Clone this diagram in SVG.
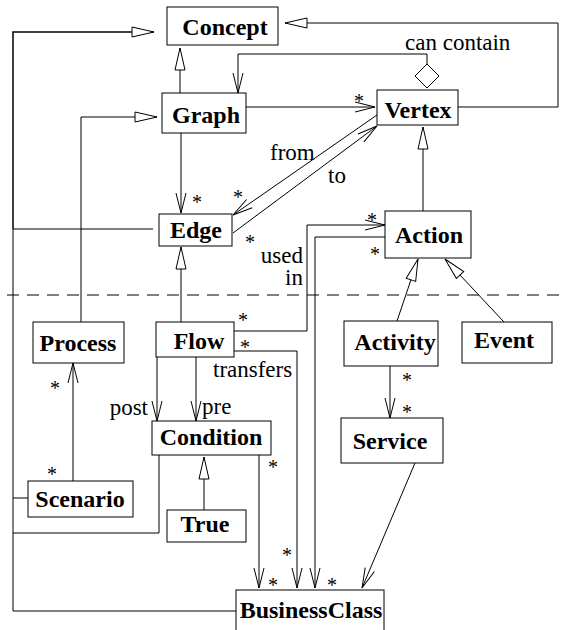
<svg xmlns="http://www.w3.org/2000/svg" width="563" height="630" viewBox="0 0 563 630">
  <style>
    .box { fill: #fff; stroke: #000; stroke-width: 1; }
    .name { font-family: "Liberation Serif", "Times New Roman", serif; font-weight: bold; font-size: 24px; text-anchor: middle; fill: #000; }
    .lbl { font-family: "Liberation Serif", "Times New Roman", serif; font-size: 23px; fill: #000; }
    .star { font-family: "Liberation Serif", "Times New Roman", serif; font-size: 20px; text-anchor: middle; fill: #000; }
    .line { fill: none; stroke: #000; stroke-width: 1; }
    .bus { fill: none; stroke: #000; stroke-width: 1.5; }
    .nav { marker-end: url(#open); }
    .gen { marker-end: url(#tri); }
    .sep { fill: none; stroke: #000; stroke-width: 1; stroke-dasharray: 12 8; }
  </style>
  <defs>
    <!-- navigable association: open V head -->
    <marker id="open" markerUnits="userSpaceOnUse" viewBox="-22 -7 24 14" markerWidth="24" markerHeight="14" refX="0" refY="0" orient="auto" overflow="visible">
      <path d="M-20,-5 L0,0 L-20,5" fill="none" stroke="#000" stroke-width="1"/>
    </marker>
    <!-- generalization: hollow triangle -->
    <marker id="tri" markerUnits="userSpaceOnUse" viewBox="-24 -7 26 14" markerWidth="26" markerHeight="14" refX="0" refY="0" orient="auto" overflow="visible">
      <path d="M-22,-5 L0,0 L-22,5 Z" fill="#fff" stroke="#000" stroke-width="1"/>
    </marker>
  </defs>

  <rect width="563" height="630" fill="#fff"/>

  <!-- layer separator -->
  <line class="sep" x1="7" y1="295" x2="563" y2="295"/>

  <g id="connectors">
    <!-- outer bus to Concept -->
    <path class="line" d="M13,611 V229" />
    <path class="bus gen" d="M13,229 V32 H154"/>
    <path class="line" d="M13,229 H153"/>
    <path class="line" d="M13,498 H28"/>
    <path class="line" d="M13,533 H159 V455"/>
    <path class="line" d="M13,611 H236"/>

    <!-- Graph generalizations -->
    <path class="line gen" d="M180,93 V48"/>
    <path class="line gen" d="M81,322 V117 H157"/>

    <!-- Vertex containment into Graph -->
    <path class="line nav" d="M427,64 V54 H238 V93"/>
    <polygon points="427,64 439,76 427,88 415,76" fill="#fff" stroke="#000" stroke-width="1"/>

    <!-- Vertex generalization to Concept -->
    <path class="line gen" d="M458,107 H558 V23 H285"/>

    <!-- Graph to Vertex / Edge -->
    <path class="line nav" d="M246,107 H375"/>
    <path class="line nav" d="M181,133 V213"/>

    <!-- from / to between Vertex and Edge -->
    <path class="line nav" d="M377,115 L233,215"/>
    <path class="line nav" d="M233,233 L377,126"/>

    <!-- Flow generalization to Edge -->
    <path class="line gen" d="M181,322 V247"/>

    <!-- used in -->
    <path class="line nav" d="M234,331 H307 V225 H385"/>
    <path class="line nav" d="M385,237 H315 V588"/>

    <!-- transfers -->
    <path class="line nav" d="M234,351 H297 V588"/>

    <!-- Condition to BusinessClass -->
    <path class="line nav" d="M259,455 V588"/>

    <!-- post / pre -->
    <path class="line nav" d="M157,357 V421"/>
    <path class="line nav" d="M196,357 V421"/>

    <!-- Scenario to Process -->
    <path class="line nav" d="M73,481 V363"/>

    <!-- True generalization to Condition -->
    <path class="line gen" d="M204,510 V457"/>

    <!-- Action generalization to Vertex -->
    <path class="line gen" d="M423,211 V127"/>

    <!-- Activity / Event generalization to Action -->
    <path class="line gen" d="M397,321 L418,259"/>
    <path class="line gen" d="M504,322 L445,259"/>

    <!-- Activity to Service -->
    <path class="line nav" d="M390,366 V418"/>

    <!-- Service to BusinessClass -->
    <path class="line nav" d="M415,463 L362,588"/>

    <!-- multiplicities -->
    <text class="star" x="359" y="108">*</text>
    <text class="star" x="197" y="209">*</text>
    <text class="star" x="238" y="204">*</text>
    <text class="star" x="250" y="249">*</text>
    <text class="star" x="243" y="327">*</text>
    <text class="star" x="245" y="354">*</text>
    <text class="star" x="372" y="227">*</text>
    <text class="star" x="375" y="261">*</text>
    <text class="star" x="273" y="474">*</text>
    <text class="star" x="287" y="562">*</text>
    <text class="star" x="273" y="592">*</text>
    <text class="star" x="332" y="592">*</text>
    <text class="star" x="407" y="387">*</text>
    <text class="star" x="407" y="419">*</text>
    <text class="star" x="55" y="395">*</text>
    <text class="star" x="52" y="481">*</text>

    <!-- role labels -->
    <text class="lbl" x="405" y="50">can contain</text>
    <text class="lbl" x="270" y="160">from</text>
    <text class="lbl" x="328" y="183">to</text>
    <text class="lbl" text-anchor="end"><tspan x="303" y="263">used</tspan><tspan x="303" y="285">in</tspan></text>
    <text class="lbl" x="213" y="377">transfers</text>
    <text class="lbl" x="148" y="415" text-anchor="end">post</text>
    <text class="lbl" x="202" y="414">pre</text>
  </g>

  <g id="concept"><rect class="box" x="167" y="7" width="111" height="38"/><text class="name" x="225" y="35">Concept</text></g>
  <g id="graph"><rect class="box" x="162" y="93" width="84" height="40"/><text class="name" x="206" y="123">Graph</text></g>
  <g id="vertex"><rect class="box" x="377" y="90" width="81" height="35"/><text class="name" x="418" y="118">Vertex</text></g>
  <g id="edge"><rect class="box" x="159" y="214" width="73" height="32"/><text class="name" x="196" y="238">Edge</text></g>
  <g id="action"><rect class="box" x="385" y="211" width="86" height="47"/><text class="name" x="429" y="243">Action</text></g>
  <g id="process"><rect class="box" x="33" y="322" width="91" height="41"/><text class="name" x="78" y="351">Process</text></g>
  <g id="flow"><rect class="box" x="156" y="322" width="78" height="35"/><text class="name" x="199" y="349">Flow</text></g>
  <g id="activity"><rect class="box" x="344" y="321" width="94" height="45"/><text class="name" x="395" y="350">Activity</text></g>
  <g id="event"><rect class="box" x="462" y="322" width="90" height="41"/><text class="name" x="504" y="348">Event</text></g>
  <g id="condition"><rect class="box" x="152" y="421" width="119" height="34"/><text class="name" x="211" y="445">Condition</text></g>
  <g id="service"><rect class="box" x="341" y="418" width="102" height="45"/><text class="name" x="390" y="449">Service</text></g>
  <g id="scenario"><rect class="box" x="28" y="481" width="105" height="36"/><text class="name" x="80" y="507">Scenario</text></g>
  <g id="true"><rect class="box" x="167" y="510" width="79" height="32"/><text class="name" x="205" y="532">True</text></g>
  <g id="businessclass"><rect class="box" x="236" y="590" width="148" height="50"/><text class="name" x="311" y="618">BusinessClass</text></g>
</svg>
